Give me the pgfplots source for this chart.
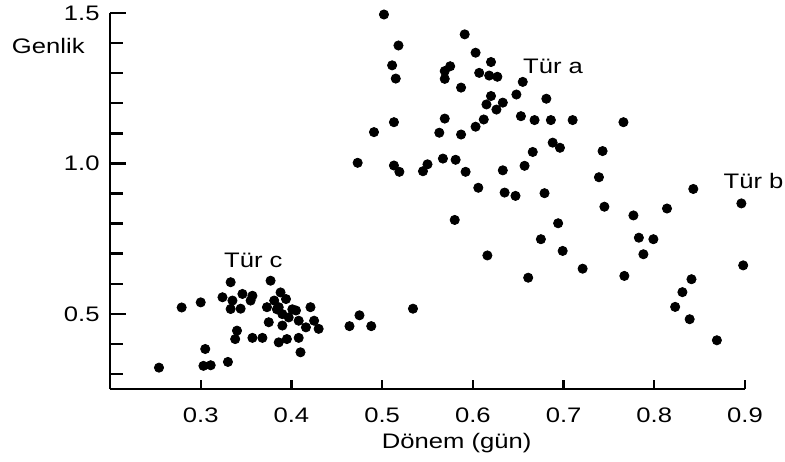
\documentclass[border=0pt]{standalone}
\usepackage{fontspec}
\setmainfont{Liberation Sans}
\usepackage{graphicx}
\usepackage{pgfplots}
\pgfplotsset{compat=1.18}
\newcommand\sx[1]{\scalebox{1.22}[1]{#1}}
\begin{document}
\fontsize{10.5}{12}\selectfont
\begin{tikzpicture}
\useasboundingbox (-55pt,-36pt) rectangle (337.5pt,194.5pt);
\begin{axis}[
  at={(0pt,0pt)}, anchor=south west,
  scale only axis, width=317.5pt, height=188pt,
  xmin=0.2, xmax=0.9, ymin=0.25, ymax=1.5,
  axis x line=bottom, axis y line=left,
  axis line style={-, line width=1.4pt},
  xtick={0.3,0.4,0.5,0.6,0.7,0.8,0.9},
  xticklabels={\sx{0.3},\sx{0.4},\sx{0.5},\sx{0.6},\sx{0.7},\sx{0.8},\sx{0.9}},
  ytick={0.5,1.0,1.5}, yticklabels={\sx{0.5},\sx{1.0},\sx{1.5}},
  minor ytick={0.3,0.4,0.6,0.7,0.8,0.9,1.1,1.2,1.3,1.4},
  tick align=inside,
  major tick length=8pt, minor tick length=6.5pt,
  xtick style={/pgfplots/major tick length=4.5pt},
  tick style={line width=1.2pt, black},
  xticklabel style={yshift=-5.5pt},
  yticklabel style={xshift=-1.5pt},
  /pgf/number format/assume math mode=true,
  clip=false,
]
\addplot[only marks, mark=*, mark size=2.3pt, black] table {
x y
0.254 0.321
0.279 0.521
0.300 0.538
0.305 0.383
0.303 0.327
0.311 0.329
0.330 0.340
0.333 0.605
0.324 0.555
0.335 0.544
0.346 0.566
0.357 0.560
0.355 0.544
0.333 0.516
0.344 0.517
0.377 0.610
0.388 0.571
0.394 0.549
0.381 0.544
0.373 0.522
0.386 0.522
0.390 0.499
0.397 0.488
0.405 0.511
0.421 0.522
0.408 0.477
0.425 0.477
0.416 0.455
0.430 0.450
0.375 0.472
0.390 0.461
0.340 0.444
0.338 0.416
0.357 0.420
0.368 0.420
0.386 0.405
0.395 0.416
0.408 0.420
0.410 0.372
0.401 0.515
0.384 0.515
0.464 0.459
0.475 0.495
0.488 0.459
0.534 0.517
0.502 1.495
0.591 1.429
0.518 1.392
0.603 1.368
0.620 1.337
0.511 1.326
0.575 1.323
0.569 1.307
0.607 1.301
0.618 1.292
0.627 1.288
0.655 1.271
0.515 1.282
0.569 1.281
0.587 1.252
0.648 1.229
0.681 1.215
0.620 1.224
0.615 1.196
0.633 1.202
0.626 1.179
0.513 1.137
0.569 1.149
0.563 1.102
0.612 1.146
0.603 1.122
0.587 1.096
0.491 1.104
0.653 1.157
0.668 1.144
0.686 1.144
0.710 1.144
0.766 1.137
0.688 1.069
0.696 1.052
0.666 1.038
0.743 1.041
0.473 1.002
0.513 0.993
0.519 0.972
0.550 0.997
0.545 0.974
0.567 1.016
0.581 1.012
0.592 0.972
0.633 0.977
0.657 0.992
0.739 0.954
0.606 0.919
0.635 0.903
0.647 0.892
0.679 0.901
0.843 0.915
0.896 0.867
0.745 0.856
0.814 0.850
0.777 0.827
0.580 0.812
0.694 0.801
0.675 0.748
0.783 0.753
0.799 0.748
0.788 0.698
0.699 0.709
0.616 0.694
0.721 0.650
0.661 0.620
0.767 0.626
0.898 0.661
0.841 0.615
0.831 0.572
0.823 0.523
0.839 0.482
0.869 0.412
};
\node[anchor=base west, inner sep=0pt] at (axis cs:0.655,1.299) {\sx{Tür a}};
\node[anchor=base west, inner sep=0pt] at (axis cs:0.876,0.916) {\sx{Tür b}};
\node[anchor=base west, inner sep=0pt] at (axis cs:0.3254,0.653) {\sx{Tür c}};
\node[anchor=base east, inner sep=0pt] at (axis description cs:-0.0394,0.893) {\sx{Genlik}};
\node[anchor=base, inner sep=0pt] at (axis description cs:0.546,-0.1577) {\sx{Dönem (gün)}};
\end{axis}
\end{tikzpicture}
\end{document}
